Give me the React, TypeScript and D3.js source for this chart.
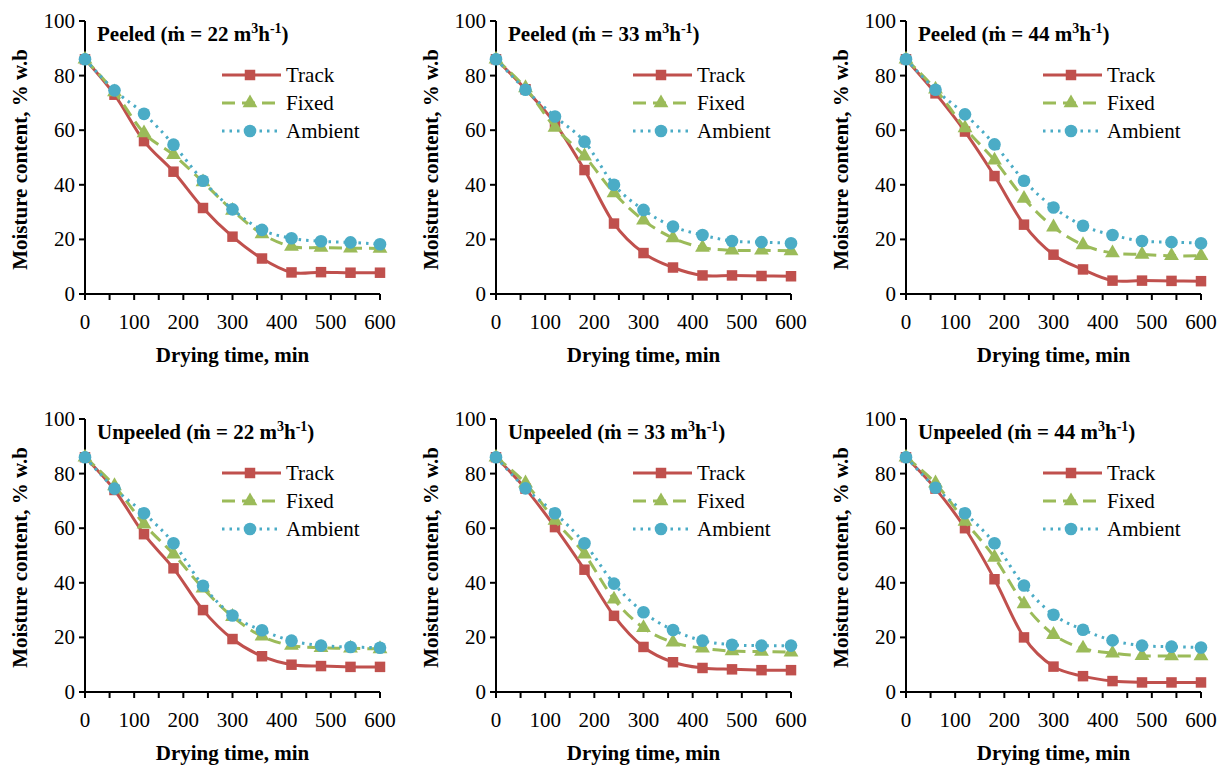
import * as d3 from "d3";

// drying time (min)
const times = [0, 60, 120, 180, 240, 300, 360, 420, 480, 540, 600];

const seriesNames = ["Track", "Fixed", "Ambient"];
const seriesColors = ["#C0504D", "#9BBB59", "#4BACC6"];

const panelTitles = [
  ["Peeled", "22"],
  ["Peeled", "33"],
  ["Peeled", "44"],
  ["Unpeeled", "22"],
  ["Unpeeled", "33"],
  ["Unpeeled", "44"],
];

// moisture content, % w.b — [Track, Fixed, Ambient] per panel
const peeled22 = [
  [86, 73, 56, 44.8, 31.5, 21, 13, 7.9, 8, 7.8, 7.8],
  [86, 74, 59, 51, 41, 30.6, 22, 17.4, 17, 16.8, 16.7],
  [86, 74.6, 66, 54.7, 41.5, 31, 23.5, 20.4, 19.3, 18.9, 18.2],
];
const peeled33 = [
  [86, 75, 62.5, 45.4, 25.8, 15, 9.7, 6.8, 6.8, 6.6, 6.5],
  [86, 75.5, 61, 50.5, 37, 27, 20.5, 17, 16, 16, 15.8],
  [86, 74.8, 65, 55.8, 40, 30.8, 24.7, 21.6, 19.4, 19, 18.6],
];
const peeled44 = [
  [86, 73.5, 59.5, 43.2, 25.4, 14.4, 9, 4.9, 4.9, 4.8, 4.7],
  [86, 75, 60.8, 49, 35, 24.5, 18, 15, 14.5, 14, 14],
  [86, 74.8, 65.8, 54.8, 41.5, 31.7, 25, 21.6, 19.4, 19, 18.6],
];
const unpeeled22 = [
  [86, 74, 57.8, 45.3, 30, 19.4, 13.1, 10, 9.5, 9.2, 9.2],
  [86, 75.5, 61.5, 50.5, 38, 27.6, 20.4, 17, 16.2, 16, 15.8],
  [86, 74.5, 65.5, 54.5, 38.9, 28, 22.6, 18.8, 17, 16.5, 16.2],
];
const unpeeled33 = [
  [86, 74.5, 60.4, 44.8, 27.9, 16.5, 10.9, 8.8, 8.3, 8, 8],
  [86, 76.5, 62.8, 50.5, 34, 23.5, 18.2, 16, 15, 14.8, 14.6],
  [86, 74.6, 65.5, 54.5, 39.7, 29.2, 22.7, 18.8, 17.3, 17, 17],
];
const unpeeled44 = [
  [86, 74.5, 60, 41.3, 20, 9.3, 5.8, 4, 3.5, 3.5, 3.5],
  [86, 76.5, 62.5, 49.3, 32.2, 21, 16, 14.2, 13.3, 13.2, 13.2],
  [86, 74.8, 65.5, 54.5, 39, 28.3, 22.8, 18.9, 17, 16.6, 16.3],
];

const panelData = [peeled22, peeled33, peeled44, unpeeled22, unpeeled33, unpeeled44];

const xTicks = [0, 50, 100, 150, 200, 250, 300, 350, 400, 450, 500, 550, 600];
const yTicks = [0, 20, 40, 60, 80, 100];

const FONT = "'Liberation Serif', 'Times New Roman', Tinos, serif";
const width = 1228;
const height = 765;
const originsX = [85, 496, 906];
const originsY = [21, 419];
const plotW = 295;
const plotH = 273;

const dashes = [undefined, "13,7", "2.5,5"];
const symbols = [d3.symbolSquare, d3.symbolTriangle, d3.symbolCircle];
const symbolSizes = [110, 95, 125];

const x = d3.scaleLinear().domain([0, 600]).range([0, plotW]);
const y = d3.scaleLinear().domain([0, 100]).range([plotH, 0]);

const line = d3
  .line<number>()
  .x((_, j) => x(times[j]))
  .y((d) => y(d))
  .curve(d3.curveCardinal.tension(0));

function Panel({ index }: { index: number }) {
  const series = panelData[index];
  const left = originsX[index % 3];
  const top = originsY[Math.floor(index / 3)];
  const [kind, flow] = panelTitles[index];

  return (
    <g transform={`translate(${left},${top})`}>
      {/* x axis */}
      <g transform={`translate(0,${plotH})`}>
        <line x1={0} x2={plotW} stroke="#000" strokeWidth={2} />
        {xTicks.map((t) => (
          <g key={t} transform={`translate(${x(t)},0)`}>
            <line y2={6} stroke="#000" strokeWidth={2} />
            {t % 100 === 0 && (
              <text className="lbl" y={35} textAnchor="middle">
                {t}
              </text>
            )}
          </g>
        ))}
      </g>
      {/* y axis */}
      <g>
        <line y1={0} y2={plotH} stroke="#000" strokeWidth={2} />
        {yTicks.map((t) => (
          <g key={t} transform={`translate(0,${y(t)})`}>
            <line x2={-6} stroke="#000" strokeWidth={2} />
            <text className="lbl" x={-10} dy="0.33em" textAnchor="end">
              {t}
            </text>
          </g>
        ))}
      </g>

      <text className="lbl bold" x={plotW / 2} y={plotH + 68} textAnchor="middle">
        Drying time, min
      </text>
      <text
        className="lbl bold"
        transform={`translate(-58,${plotH / 2 + 2}) rotate(-90)`}
        textAnchor="middle"
      >
        Moisture content, % w.b
      </text>

      <text className="lbl bold" x={12} y={20}>
        <tspan>{`${kind} (\u1E41 = ${flow} m`}</tspan>
        <tspan className="sup" dy={-8}>
          3
        </tspan>
        <tspan dy={8}>h</tspan>
        <tspan className="sup" dy={-8}>
          -1
        </tspan>
        <tspan dy={8}>)</tspan>
      </text>

      {series.map((vals, s) => (
        <g key={s}>
          <path
            d={line(vals) ?? ""}
            fill="none"
            stroke={seriesColors[s]}
            strokeWidth={3}
            strokeDasharray={dashes[s]}
          />
          {vals.map((v, j) => (
            <path
              key={j}
              transform={`translate(${x(times[j])},${y(v)})`}
              d={d3.symbol().type(symbols[s]).size(symbolSizes[s])() ?? ""}
              fill={seriesColors[s]}
            />
          ))}
        </g>
      ))}

      {seriesNames.map((name, s) => {
        const ly = 54 + s * 28;
        return (
          <g key={name}>
            <line
              x1={137}
              x2={196}
              y1={ly}
              y2={ly}
              stroke={seriesColors[s]}
              strokeWidth={3}
              strokeDasharray={dashes[s]}
            />
            <path
              transform={`translate(165,${ly})`}
              d={d3.symbol().type(symbols[s]).size(symbolSizes[s])() ?? ""}
              fill={seriesColors[s]}
            />
            <text className="lbl" x={201} y={ly} dy="0.33em">
              {name}
            </text>
          </g>
        );
      })}
    </g>
  );
}

const css = `
svg.chart text.lbl { font-family: ${FONT} !important; font-size: 21px; fill: #000; }
svg.chart text.bold { font-weight: bold; }
svg.chart tspan.sup { font-size: 14px; }
`;

export default function App() {
  return (
    <svg
      className="chart"
      width={width}
      height={height}
      fontFamily={FONT}
      style={{ position: "absolute", left: 0, top: 0, display: "block", background: "#fff" }}
    >
      <style>{css}</style>
      {panelData.map((_, i) => (
        <Panel key={i} index={i} />
      ))}
    </svg>
  );
}
